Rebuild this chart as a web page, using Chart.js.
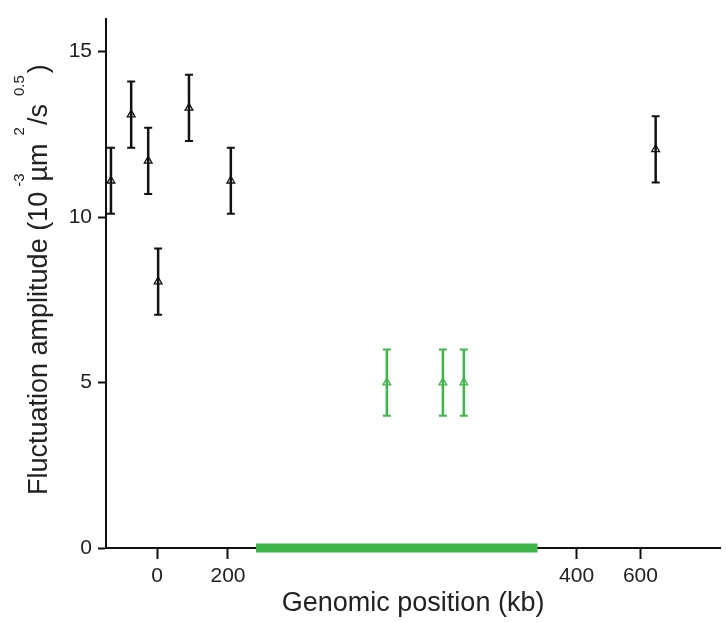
<!DOCTYPE html>
<html>
<head>
<meta charset="utf-8">
<script src="https://cdn.jsdelivr.net/npm/chart.js@4.4.1/dist/chart.umd.min.js"></script>
<style>
  html, body { margin: 0; padding: 0; background: #fff; }
  #wrap { width: 726px; height: 622px; }
</style>
</head>
<body>
<div id="wrap"><canvas id="c" width="726" height="622"></canvas></div>
<script>
// x is the position along the drawn (broken) axis; the green stretch is an expanded region
const blackPos = [-130, -73, -25, 3, 90, 208, 1406];
const blackAmp = [11.1, 13.1, 11.7, 8.05, 13.3, 11.1, 12.05];
const blackErr = [1, 1, 1, 1, 1, 1, 1];

const greenPos = [648, 806, 865];
const greenAmp = [5, 5, 5];
const greenErr = [1, 1, 1];

const regionStart = 279;
const regionEnd = 1073;

const xTickPos = [0, 200, 1183, 1363];
const xTickLabels = ["0", "200", "400", "600"];
const yTicks = [0, 5, 10, 15];

const xMin = -144, xMax = 1588;
const yMin = 0, yMax = 16;

const BLACK = "#111111";
const GREEN = "#3fb54a";
const FONT = "'Liberation Sans', Arial, sans-serif";

function pts(xs, ys) {
  return xs.map((x, i) => ({ x: x, y: ys[i] }));
}

// vertical error bars with caps, drawn under the markers
const errorBars = {
  id: "errorBars",
  beforeDatasetsDraw(chart) {
    const ctx = chart.ctx;
    const xs = chart.scales.x, ys = chart.scales.y;
    chart.data.datasets.forEach((ds) => {
      if (!ds.errors) return;
      ctx.save();
      ctx.strokeStyle = ds.borderColor;
      ds.data.forEach((p, i) => {
        const px = xs.getPixelForValue(p.x);
        const top = ys.getPixelForValue(p.y + ds.errors[i]);
        const bot = ys.getPixelForValue(p.y - ds.errors[i]);
        ctx.lineWidth = 2.5;
        ctx.beginPath();
        ctx.moveTo(px, top); ctx.lineTo(px, bot);
        ctx.stroke();
        ctx.lineWidth = 2;
        ctx.beginPath();
        ctx.moveTo(px - 4, top); ctx.lineTo(px + 4, top);
        ctx.moveTo(px - 4, bot); ctx.lineTo(px + 4, bot);
        ctx.stroke();
      });
      ctx.restore();
    });
  }
};

// y title with superscript units
const yTitle = {
  id: "yTitle",
  afterDraw(chart) {
    const ctx = chart.ctx;
    const main = "27px " + FONT, sup = "15px " + FONT;
    // [text, superscript?, gap before]
    const parts = [
      ["Fluctuation amplitude (10", false, 0],
      ["-3", true, 5],
      ["\u00b5m", false, -8],
      ["2", true, 8],
      ["/s", false, 2],
      ["0.5", true, 8],
      [")", false, 2]
    ];
    ctx.save();
    ctx.translate(47, 495);
    ctx.rotate(-Math.PI / 2);
    ctx.fillStyle = "#222";
    ctx.textBaseline = "alphabetic";
    let x = 0;
    parts.forEach(([t, isSup, gap]) => {
      ctx.font = isSup ? sup : main;
      x += gap;
      ctx.fillText(t, x, isSup ? -23 : 0);
      x += ctx.measureText(t).width;
    });
    ctx.restore();
  }
};

new Chart(document.getElementById("c"), {
  type: "scatter",
  data: {
    datasets: [
      {
        data: pts(blackPos, blackAmp),
        errors: blackErr,
        borderColor: BLACK,
        backgroundColor: "rgba(0,0,0,0)",
        pointStyle: "triangle",
        pointRadius: 4.5,
        borderWidth: 1.3
      },
      {
        data: pts(greenPos, greenAmp),
        errors: greenErr,
        borderColor: GREEN,
        backgroundColor: "rgba(0,0,0,0)",
        pointStyle: "triangle",
        pointRadius: 4.5,
        borderWidth: 1.3
      },
      {
        type: "line",
        data: [{ x: regionStart, y: yMin }, { x: regionEnd, y: yMin }],
        borderColor: GREEN,
        borderWidth: 9,
        borderCapStyle: "butt",
        pointRadius: 0,
        clip: false
      }
    ]
  },
  options: {
    responsive: false,
    animation: false,
    layout: { padding: { top: 17, right: 1, left: 0, bottom: 0 } },
    plugins: { legend: { display: false }, tooltip: { enabled: false } },
    scales: {
      x: {
        type: "linear",
        min: xMin,
        max: xMax,
        afterBuildTicks: (axis) => {
          axis.ticks = xTickPos.map((v) => ({ value: v }));
        },
        afterFit: (axis) => { axis.height = 74; },
        ticks: {
          callback: (v, i) => xTickLabels[i],
          color: "#222",
          font: { family: FONT, size: 21 },
          padding: 5,
          maxRotation: 0,
          autoSkip: false
        },
        grid: {
          drawOnChartArea: false,
          tickLength: 11,
          tickWidth: 2,
          tickColor: BLACK
        },
        border: { display: true, color: BLACK, width: 2 },
        title: {
          display: true,
          text: "Genomic position (kb)",
          color: "#222",
          font: { family: FONT, size: 27 },
          padding: { top: 0, bottom: 2 }
        }
      },
      y: {
        min: yMin,
        max: yMax,
        afterBuildTicks: (axis) => {
          axis.ticks = yTicks.map((v) => ({ value: v }));
        },
        afterFit: (axis) => { axis.width = 106; },
        ticks: {
          color: "#222",
          font: { family: FONT, size: 21 },
          padding: 6
        },
        grid: {
          drawOnChartArea: false,
          tickLength: 8,
          tickWidth: 2,
          tickColor: BLACK
        },
        border: { display: true, color: BLACK, width: 2 }
      }
    }
  },
  plugins: [errorBars, yTitle]
});
</script>
</body>
</html>
